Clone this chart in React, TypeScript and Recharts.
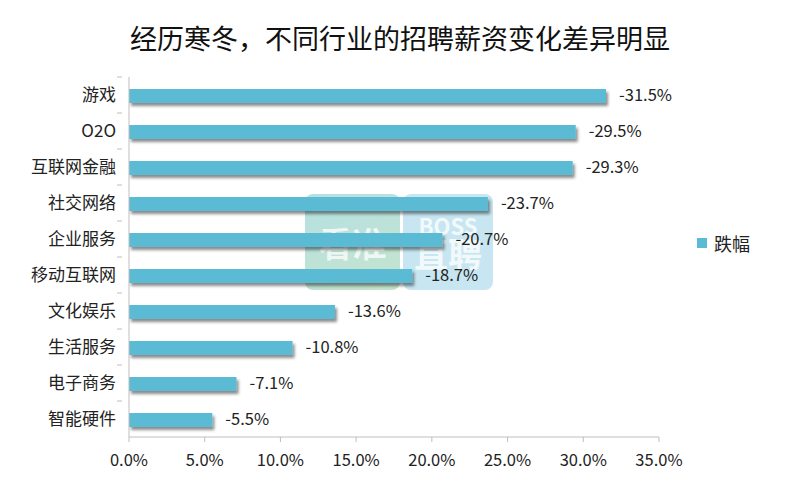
import React from "react";
import { BarChart, Bar, XAxis, YAxis, LabelList } from "recharts";

const categories = ["游戏", "O2O", "互联网金融", "社交网络", "企业服务", "移动互联网", "文化娱乐", "生活服务", "电子商务", "智能硬件"];
const declines = [31.5, 29.5, 29.3, 23.7, 20.7, 18.7, 13.6, 10.8, 7.1, 5.5];
const xTicks = [0, 5, 10, 15, 20, 25, 30, 35];
const seriesName = "跌幅";
const title = "经历寒冬，不同行业的招聘薪资变化差异明显";

const data = categories.map((c, i) => ({ name: c, value: declines[i] }));

const FONT = "'Noto Sans CJK SC', 'Noto Sans', sans-serif";
const BAR_COLOR = "#5bbbd4";
const AXIS_COLOR = "#bfbfbf";

const BarShape = (props: any) => {
  const { x, y, width, height, fill } = props;
  return (
    <g>
      <defs>
        <filter id="barShadow" x="-10%" y="-50%" width="120%" height="250%">
          <feDropShadow dx="2" dy="3" stdDeviation="1.8" floodColor="#000" floodOpacity="0.45" />
        </filter>
      </defs>
      <rect x={x} y={y + 1} width={width} height={height} fill={fill} filter="url(#barShadow)" />
    </g>
  );
};

const YTick = (props: any) => {
  const { x, y, payload } = props;
  const off = payload && payload.offset ? payload.offset : 0;
  return (
    <g>
      <line x1={x - 1} x2={x + 4} y1={y - off} y2={y - off} stroke={AXIS_COLOR} strokeWidth={1} />
      <text x={x - 2} y={y} dy="0.35em" textAnchor="end" fill="#222" fontSize={17} fontFamily={FONT}>
        {payload.value}
      </text>
    </g>
  );
};

export default function App() {
  return (
    <div style={{ position: "absolute", left: 0, top: 0, width: 800, height: 486, background: "#fff" }}>
      <div
        style={{
          position: "absolute",
          left: 0,
          top: 21,
          width: 800,
          textAlign: "center",
          fontFamily: FONT,
          fontSize: 27,
          color: "#111",
          lineHeight: "34px",
        }}
      >
        {title}
      </div>
      <div
        style={{
          position: "absolute",
          left: 305,
          top: 194,
          width: 95,
          height: 96,
          borderRadius: 8,
          background: "linear-gradient(160deg, rgba(120,200,205,0.55), rgba(150,205,160,0.55))",
          color: "rgba(255,255,255,0.75)",
          fontFamily: FONT,
          fontSize: 34,
          fontWeight: 700,
          display: "flex",
          alignItems: "center",
          justifyContent: "center",
        }}
      >
        看准
      </div>
      <div
        style={{
          position: "absolute",
          left: 403,
          top: 194,
          width: 90,
          height: 96,
          borderRadius: 8,
          background: "rgba(130,200,225,0.45)",
          color: "rgba(255,255,255,0.8)",
          fontFamily: FONT,
          fontWeight: 700,
          display: "flex",
          flexDirection: "column",
          alignItems: "center",
          justifyContent: "center",
          lineHeight: 1,
        }}
      >
        <div style={{ fontSize: 22 }}>BOSS</div>
        <div style={{ fontSize: 34 }}>直聘</div>
      </div>
      <div style={{ position: "absolute", left: 0, top: 0 }}>
        <BarChart
          width={800}
          height={486}
          data={data}
          layout="vertical"
          margin={{ top: 77, right: 141, bottom: 19, left: 0 }}
          barSize={14}
        >
          <XAxis
            type="number"
            domain={[0, 35]}
            ticks={xTicks}
            tickFormatter={(v: number) => v.toFixed(1) + "%"}
            stroke={AXIS_COLOR}
            tickSize={5}
            tickMargin={12}
            height={30}
            tick={{ fill: "#222", fontSize: 16.5, fontFamily: FONT }}
            interval={0}
          />
          <YAxis
            type="category"
            dataKey="name"
            width={129}
            stroke={AXIS_COLOR}
            tickLine={false}
            tick={<YTick />}
            tickMargin={5}
            interval={0}
          />
          <Bar dataKey="value" name={seriesName} fill={BAR_COLOR} isAnimationActive={false} shape={<BarShape />}>
            <LabelList
              dataKey="value"
              position="right"
              offset={13}
              formatter={(v: any) => "-" + Number(v).toFixed(1) + "%"}
              style={{ fill: "#222", fontSize: 16.5, fontFamily: FONT }}
            />
          </Bar>
        </BarChart>
      </div>
      <div
        style={{
          position: "absolute",
          left: 697,
          top: 230,
          display: "flex",
          alignItems: "center",
          fontFamily: FONT,
          fontSize: 18,
          color: "#222",
        }}
      >
        <span style={{ display: "inline-block", width: 10, height: 10, background: BAR_COLOR, marginRight: 7 }} />
        <span>{seriesName}</span>
      </div>
    </div>
  );
}
